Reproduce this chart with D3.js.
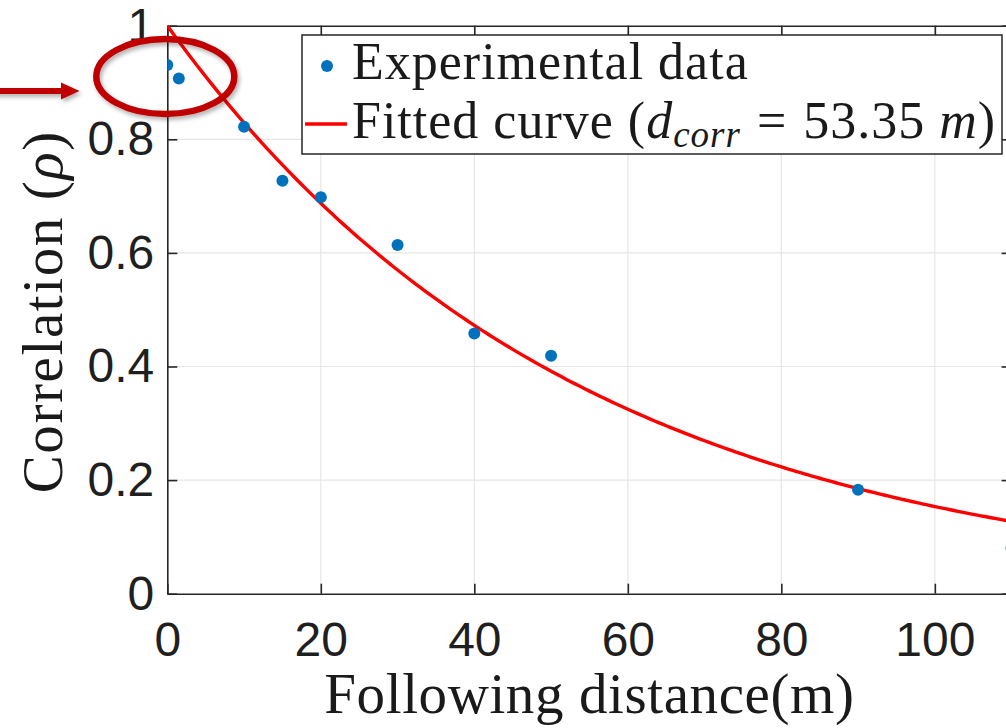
<!DOCTYPE html>
<html>
<head>
<meta charset="utf-8">
<script src="https://cdn.jsdelivr.net/npm/d3@7"></script>
<style>
  html, body { margin: 0; padding: 0; background: #fff; overflow: hidden; }
  svg { display: block; }
</style>
</head>
<body>
<svg id="chart" width="1006" height="728"></svg>
<script>
// Measured correlation between vehicles at each following distance
const distances    = [0, 1.5, 10, 15, 20, 30, 40, 50, 90, 110];
const correlations = [0.931, 0.907, 0.822, 0.727, 0.698, 0.614, 0.458, 0.419, 0.183, 0.080];

// Exponential fit rho(d) = exp(-d / dCorr)
const dCorr = 53.35;

const xTicks = [0, 20, 40, 60, 80, 100];
const yTicks = [0, 0.2, 0.4, 0.6, 0.8, 1];
const xDomain = [0, 110];
const yDomain = [0, 1];

const svg = d3.select("#chart");

const plotLeft = 167.3, plotRight = 1011.6, plotTop = 25.7, plotBottom = 593.7;
const x = d3.scaleLinear().domain(xDomain).range([plotLeft, plotRight]);
const y = d3.scaleLinear().domain(yDomain).range([plotBottom, plotTop]);

const axisColor = "#262626";
const sans = "'Liberation Sans', Arial, sans-serif";
const serif = "'Liberation Serif', 'Times New Roman', serif";

// drop shadow for the callout
const defs = svg.append("defs");
const shadow = defs.append("filter").attr("id", "shadow")
  .attr("x", "-20%").attr("y", "-20%").attr("width", "140%").attr("height", "160%");
shadow.append("feDropShadow").attr("dx", 2).attr("dy", 3).attr("stdDeviation", 2)
  .attr("flood-color", "#000").attr("flood-opacity", 0.3);

defs.append("clipPath").attr("id", "plotClip")
  .append("rect").attr("x", plotLeft).attr("y", plotTop)
  .attr("width", plotRight - plotLeft).attr("height", plotBottom - plotTop);

// grid
const grid = svg.append("g").attr("stroke", "#e6e6e6").attr("stroke-width", 1.2);
grid.selectAll("line.gx").data(xTicks.filter(d => d > 0)).join("line")
  .attr("x1", d => x(d)).attr("x2", d => x(d)).attr("y1", plotTop).attr("y2", plotBottom);
grid.selectAll("line.gy").data(yTicks.filter(d => d > 0 && d < 1)).join("line")
  .attr("x1", plotLeft).attr("x2", plotRight).attr("y1", d => y(d)).attr("y2", d => y(d));

// axes (ticks point inward)
function styleAxis(g) {
  g.selectAll(".domain").attr("stroke", axisColor).attr("stroke-width", 1.6);
  g.selectAll(".tick line").attr("stroke", axisColor).attr("stroke-width", 1.6);
  g.selectAll(".tick text").attr("fill", "#1f1f1f").attr("font-family", sans).attr("font-size", 48);
}

svg.append("g").attr("transform", `translate(0,${plotBottom})`)
  .call(d3.axisBottom(x).tickValues(xTicks).tickFormat(d3.format("d"))
    .tickSizeInner(-10).tickSizeOuter(0).tickPadding(28))
  .call(styleAxis);

svg.append("g").attr("transform", `translate(0,${plotTop})`)
  .call(d3.axisTop(x).tickValues(xTicks).tickFormat("")
    .tickSizeInner(-10).tickSizeOuter(0))
  .call(styleAxis);

svg.append("g").attr("transform", `translate(${plotLeft},0)`)
  .call(d3.axisLeft(y).tickValues(yTicks).tickFormat(d => String(+d.toFixed(1)))
    .tickSizeInner(-10).tickSizeOuter(0).tickPadding(13))
  .call(styleAxis);

svg.append("g").attr("transform", `translate(${plotRight},0)`)
  .call(d3.axisRight(y).tickValues(yTicks).tickFormat("")
    .tickSizeInner(-10).tickSizeOuter(0))
  .call(styleAxis);

// fitted curve
const plot = svg.append("g").attr("clip-path", "url(#plotClip)");
const curveX = d3.range(xDomain[0], xDomain[1] + 0.25, 0.5);
plot.append("path")
  .datum(curveX)
  .attr("fill", "none")
  .attr("stroke", "#ff0000")
  .attr("stroke-width", 3.4)
  .attr("d", d3.line().x(d => x(d)).y(d => y(Math.exp(-d / dCorr))));

// experimental points
plot.selectAll("circle.pt").data(distances).join("circle")
  .attr("cx", d => x(d))
  .attr("cy", (d, i) => y(correlations[i]))
  .attr("r", 6)
  .attr("fill", "#0072bd");

// axis titles
svg.append("text")
  .attr("x", (plotLeft + plotRight) / 2).attr("y", 713)
  .attr("text-anchor", "middle")
  .attr("font-family", serif).attr("font-size", 57).attr("letter-spacing", 0.6)
  .attr("fill", "#1a1a1a")
  .text("Following distance(m)");

const yTitle = svg.append("text")
  .attr("transform", `translate(62,${(plotTop + plotBottom) / 2 + 2}) rotate(-90)`)
  .attr("text-anchor", "middle")
  .attr("font-family", serif).attr("font-size", 57).attr("letter-spacing", 1.6)
  .attr("fill", "#1a1a1a");
yTitle.append("tspan").text("Correlation (");
yTitle.append("tspan").attr("font-style", "italic").text("ρ");
yTitle.append("tspan").text(")");

// legend
const legend = svg.append("g");
legend.append("rect")
  .attr("x", 302).attr("y", 35).attr("width", 700).attr("height", 119)
  .attr("fill", "#fff").attr("stroke", axisColor).attr("stroke-width", 1.5);
legend.append("circle").attr("cx", 327).attr("cy", 66).attr("r", 6).attr("fill", "#0072bd");
legend.append("line").attr("x1", 305).attr("x2", 347).attr("y1", 124).attr("y2", 124)
  .attr("stroke", "#ff0000").attr("stroke-width", 3.4);
legend.append("text")
  .attr("x", 352).attr("y", 79)
  .attr("font-family", serif).attr("font-size", 52).attr("letter-spacing", 1)
  .attr("fill", "#1a1a1a")
  .text("Experimental data");
const fitText = legend.append("text")
  .attr("x", 352).attr("y", 138)
  .attr("font-family", serif).attr("font-size", 52).attr("letter-spacing", 1)
  .attr("fill", "#1a1a1a");
fitText.append("tspan").text("Fitted curve (");
fitText.append("tspan").attr("font-style", "italic").text("d");
fitText.append("tspan").attr("font-style", "italic").attr("font-size", 37).attr("dy", 9).text("corr");
fitText.append("tspan").attr("dy", -9).attr("dx", 16).text("=");
fitText.append("tspan").attr("dx", 16).text(dCorr.toFixed(2));
fitText.append("tspan").attr("dx", 14).attr("font-style", "italic").text("m");
fitText.append("tspan").text(")");

// callout highlighting the short-distance points
const callout = svg.append("g").attr("filter", "url(#shadow)");
callout.append("ellipse")
  .attr("cx", x(0) - 2).attr("cy", 76.5).attr("rx", 69).attr("ry", 37.5)
  .attr("fill", "none").attr("stroke", "#c00000").attr("stroke-width", 6.5);
callout.append("line")
  .attr("x1", -5).attr("x2", 64).attr("y1", 91).attr("y2", 91)
  .attr("stroke", "#c00000").attr("stroke-width", 6);
callout.append("path")
  .attr("d", "M61,82.5 L79.5,91 L61,99.5 Z")
  .attr("fill", "#c00000");
</script>
</body>
</html>
